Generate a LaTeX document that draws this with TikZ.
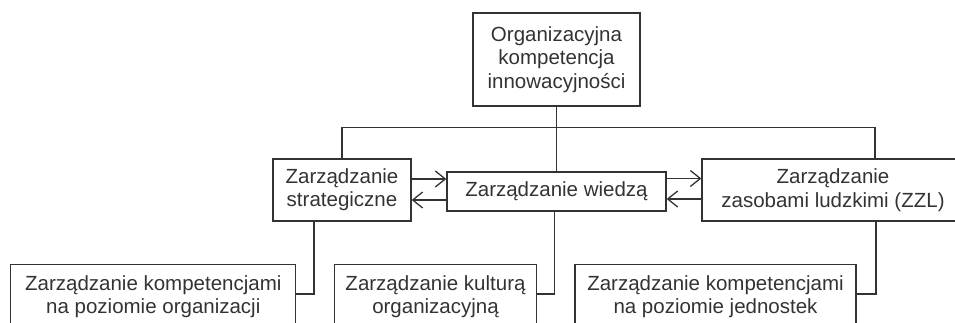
\documentclass[tikz,border=0pt]{standalone}
\usepackage{fontspec}
\setmainfont{Liberation Sans}
\usetikzlibrary{arrows.meta}
\definecolor{ink}{HTML}{333333}
\tikzset{
  box/.style={draw=ink, line width=1.3pt, text=ink, inner sep=0pt, align=center,
    font=\fontsize{20.5}{23.4}\selectfont},
  conn/.style={draw=ink, line width=1.3pt},
  arr/.style={conn, -{Straight Barb[length=10pt, width=16pt, line width=1.3pt]}}
}
\begin{document}
\begin{tikzpicture}[x=1pt, y=-1pt]
\useasboundingbox (0,0) rectangle (955,323);
\clip (0,0) rectangle (955,323);
\node[box, minimum width=167pt, minimum height=93pt] (top) at (556.5,59.5)
  {Organizacyjna\\kompetencja\\innowacyjności};
\node[box, minimum width=138pt, minimum height=62pt] (left) at (342,190)
  {Zarządzanie\\strategiczne};
\node[box, minimum width=219pt, minimum height=39pt] (mid) at (556.5,191.5)
  {Zarządzanie wiedzą};
\node[box, minimum width=262pt, minimum height=62pt] (right) at (833,190)
  {Zarządzanie\\zasobami ludzkimi (ZZL)};
\node[box, minimum width=285pt, minimum height=64pt, anchor=north] (bl) at (153.3,264)
  {Zarządzanie kompetencjami\\na poziomie organizacji};
\node[box, minimum width=202pt, minimum height=64pt, anchor=north] (bm) at (435.5,264)
  {Zarządzanie kulturą\\organizacyjną};
\node[box, minimum width=281pt, minimum height=64pt, anchor=north] (br) at (715.5,264)
  {Zarządzanie kompetencjami\\na poziomie jednostek};
\coordinate (bus) at (556.5,127.3);
\draw[conn] (top.south) -- (mid.north);
\draw[conn] (left.north) |- (bus) -| ([xshift=42pt]right.north);
\draw[arr] ([yshift=11pt]left.east) -- ([yshift=11pt]left.east -| mid.west);
\draw[arr] ([yshift=-10pt]left.east -| mid.west) -- ([yshift=-10pt]left.east);
\draw[arr] ([yshift=11.5pt]right.west -| mid.east) -- ([yshift=11.5pt]right.west);
\draw[arr] ([yshift=-9pt]right.west) -- ([yshift=-9pt]right.west -| mid.east);
\draw[conn] ([xshift=-28pt]left.south) |- ([yshift=2.7pt]bl.east);
\draw[conn] ([xshift=-2pt]mid.south) |- ([yshift=2.7pt]bm.east);
\draw[conn] ([xshift=43pt]right.south) |- ([yshift=2.7pt]br.east);
\end{tikzpicture}
\end{document}
